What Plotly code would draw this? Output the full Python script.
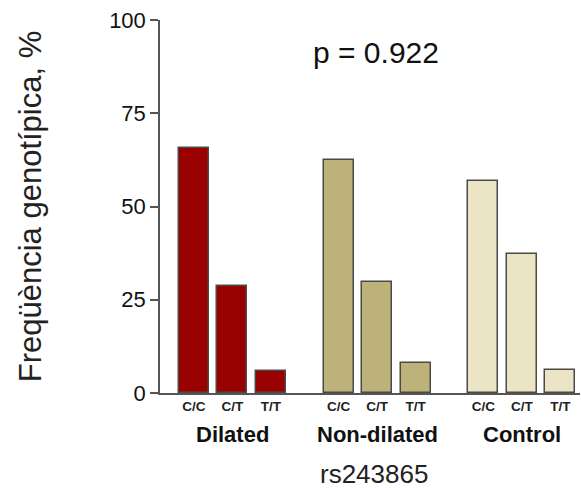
import plotly.graph_objects as go

# Genotype frequencies (%) for rs243865, by group
groups = ["Dilated", "Non-dilated", "Control"]
genotypes = ["C/C", "C/T", "T/T"]
dilated = [65.6, 28.6, 5.9]
non_dilated = [62.5, 29.7, 8.0]
control = [56.8, 37.2, 6.2]
series = [dilated, non_dilated, control]
colors = ["#990000", "#BDB27A", "#EBE5C6"]
y_ticks = [0, 25, 50, 75, 100]
p_text = "p = 0.922"
snp = "rs243865"

FONT = "Liberation Sans, Arial, sans-serif"
GROUP_STEP = 3.76  # spacing between group starts, in bar slots

fig = go.Figure()
tickvals, ticktext, centers = [], [], []
for g, (name, vals, col) in enumerate(zip(groups, series, colors)):
    xs = [g * GROUP_STEP + i for i in range(len(genotypes))]
    tickvals += xs
    ticktext += [f"<b>{t}</b>" for t in genotypes]
    centers.append(xs[1])
    fig.add_trace(go.Bar(
        x=xs, y=vals, name=name, width=0.78,
        marker=dict(color=col, line=dict(color="#4a4a4a", width=1.5)),
        showlegend=False,
    ))

x_range = [-0.88, 10.03]
for name, c in zip(groups, centers):
    fig.add_annotation(
        x=c, xref="x", y=-0.11, yref="paper", text=f"<b>{name}</b>",
        showarrow=False, font=dict(family=FONT, size=22, color="#111"),
        xanchor="center", yanchor="middle",
    )

fig.add_annotation(
    x=0.51, xref="paper", y=-0.217, yref="paper", text=snp,
    showarrow=False, font=dict(family=FONT, size=26, color="#222"),
    xanchor="center", yanchor="middle",
)
fig.add_annotation(
    x=0.514, xref="paper", y=0.914, yref="paper", text=p_text,
    showarrow=False, font=dict(family=FONT, size=30, color="#111"),
    xanchor="center", yanchor="middle",
)

fig.update_layout(
    width=581, height=489,
    margin=dict(l=160, r=1, t=20, b=96),
    paper_bgcolor="white", plot_bgcolor="white",
    font=dict(family=FONT, color="#111"),
    bargap=0,
    xaxis=dict(
        range=x_range, tickvals=tickvals, ticktext=ticktext,
        tickfont=dict(family=FONT, size=13.5, color="#222"),
        showgrid=False, zeroline=False, showline=True,
        linecolor="#555", linewidth=1.5, ticks="",
    ),
    yaxis=dict(
        range=[0, 100], tickvals=y_ticks,
        tickfont=dict(family=FONT, size=22, color="#111"),
        showgrid=False, zeroline=False, showline=True,
        linecolor="#555", linewidth=1.5,
        ticks="outside", ticklen=8, tickcolor="#555", tickwidth=1.5,
        title=dict(text="Freqüència genotípica, %", standoff=58,
                   font=dict(family=FONT, size=31, color="#222")),
    ),
)

fig.write_html("out.html")
